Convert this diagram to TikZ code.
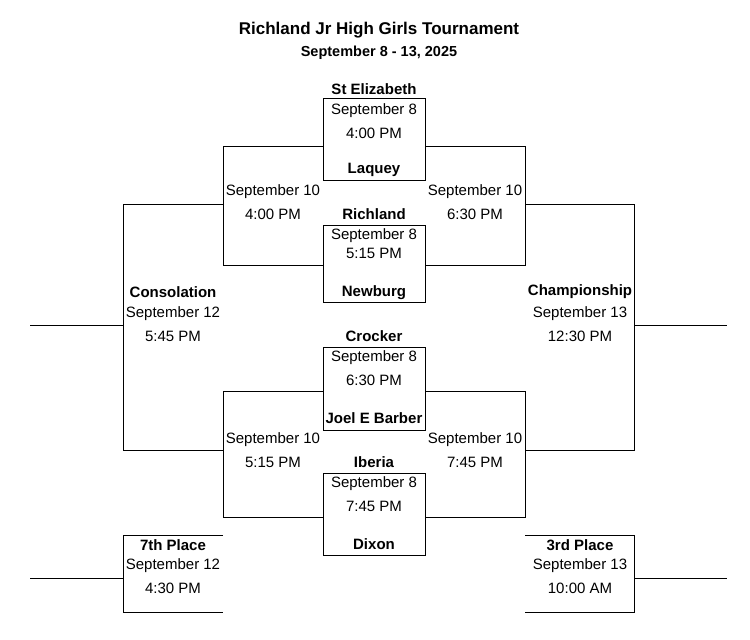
\documentclass[tikz,border=0pt]{standalone}
\usepackage{fontspec}
\setmainfont{Liberation Sans}
\begin{document}
\begin{tikzpicture}[x=1pt,y=-1pt,
  txt/.style={font=\fontsize{15}{17}\selectfont, inner sep=0pt},
  btxt/.style={font=\fontsize{15}{17}\selectfont\bfseries, inner sep=0pt},
  ln/.style={line width=0.8pt}]
\useasboundingbox (0,0) rectangle (750,640);
\node[inner sep=0pt, font=\fontsize{17}{19}\selectfont\bfseries] (title) at (379,30) {Richland Jr High Girls Tournament};
\node[inner sep=0pt, font=\fontsize{14.5}{17}\selectfont\bfseries] (sub) at (379,53) {September 8 - 13, 2025};
% first round boxes
\foreach \n/\t/\b in {g1/98/180, g2/225/302, g3/347/430, g4/473/555}{
  \draw[ln] (323,\t) rectangle (425,\b);
  \coordinate (\n) at (374,\t);
}
\node[btxt] (a1) at (374,89) {St Elizabeth};
\node[txt] (d1) at (374,111) {September 8};
\node[txt] (t1) at (374,133) {4:00 PM};
\node[btxt] (b1) at (374,170) {Laquey};
\node[btxt] (a2) at (374,214) {Richland};
\node[txt] (d2) at (374,236) {September 8};
\node[txt] (t2) at (374,253) {5:15 PM};
\node[btxt] (b2) at (374,293) {Newburg};
\node[btxt] (a3) at (374,336) {Crocker};
\node[txt] (d3) at (374,358) {September 8};
\node[txt] (t3) at (374,380) {6:30 PM};
\node[btxt] (b3) at (374,418) {Joel E Barber};
\node[btxt] (a4) at (374,462) {Iberia};
\node[txt] (d4) at (374,484) {September 8};
\node[txt] (t4) at (374,506) {7:45 PM};
\node[btxt] (b4) at (374,544) {Dixon};
% second round brackets
\draw[ln] (323,146) -- (223,146) -- (223,265) -- (323,265);
\draw[ln] (425,146) -- (525,146) -- (525,265) -- (425,265);
\draw[ln] (323,391) -- (223,391) -- (223,517) -- (323,517);
\draw[ln] (425,391) -- (525,391) -- (525,517) -- (425,517);
\node[txt] (s1) at (273,192) {September 10};
\node[txt] (s1t) at (273,214) {4:00 PM};
\node[txt] (s2) at (475,192) {September 10};
\node[txt] (s2t) at (475,214) {6:30 PM};
\node[txt] (s3) at (273,440) {September 10};
\node[txt] (s3t) at (273,462) {5:15 PM};
\node[txt] (s4) at (475,440) {September 10};
\node[txt] (s4t) at (475,462) {7:45 PM};
% consolation / championship
\draw[ln] (223,204) -- (123,204) -- (123,450) -- (223,450);
\draw[ln] (123,325) -- (30,325);
\draw[ln] (525,204) -- (634,204) -- (634,450) -- (525,450);
\draw[ln] (634,325) -- (727,325);
\node[btxt] (c1) at (173,292) {Consolation};
\node[txt] (c2) at (173,314) {September 12};
\node[txt] (c3) at (173,336) {5:45 PM};
\node[btxt] (h1) at (580,292) {Championship};
\node[txt] (h2) at (580,314) {September 13};
\node[txt] (h3) at (580,336) {12:30 PM};
% placement games
\draw[ln] (223,535) -- (123,535) -- (123,612) -- (223,612);
\draw[ln] (123,578) -- (30,578);
\draw[ln] (525,535) -- (634,535) -- (634,612) -- (525,612);
\draw[ln] (634,578) -- (727,578);
\node[btxt] (p1) at (173,545) {7th Place};
\node[txt] (p2) at (173,566) {September 12};
\node[txt] (p3) at (173,588) {4:30 PM};
\node[btxt] (q1) at (580,545) {3rd Place};
\node[txt] (q2) at (580,566) {September 13};
\node[txt] (q3) at (580,588) {10:00 AM};
\end{tikzpicture}
\end{document}
